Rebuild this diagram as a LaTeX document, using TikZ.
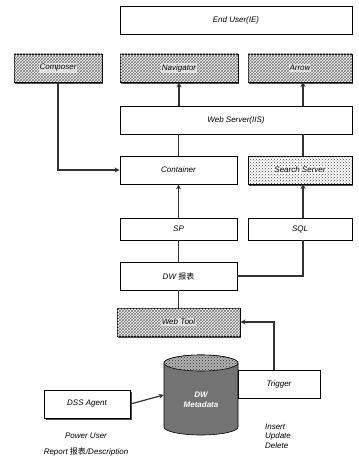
\documentclass[tikz,border=0pt]{standalone}
\usepackage{fontspec}
\setmainfont{Liberation Sans}
\newfontfamily\cjk{Noto Sans CJK SC}
\usetikzlibrary{patterns,shadows,arrows.meta}
\begin{document}
\begin{tikzpicture}[x=1pt,y=-1pt,
  every node/.style={font=\fontsize{8}{9.5}\selectfont\itshape},
  plainbox/.style={draw=black, line width=0.8pt, fill=white, inner sep=0pt},
  hatchbox/.style={draw=black, line width=0.8pt, inner sep=0pt, fill=white,
     postaction={pattern=crosshatch, pattern color=black!55},
     drop shadow={shadow xshift=1.2pt, shadow yshift=-1.8pt, fill=black!70, opacity=1}},
  dotbox/.style={draw=black, line width=0.8pt, inner sep=0pt, fill=white,
     postaction={pattern=crosshatch dots, pattern color=black!75},
     drop shadow={shadow xshift=1.2pt, shadow yshift=-1.8pt, fill=black!70, opacity=1}},
  lbl/.style={fill=white, fill opacity=0.6, text opacity=1, inner sep=1pt},
  conn/.style={line width=1.2pt, draw=black!80},
  arr/.style={conn, -{Stealth[length=5pt,width=5pt,fill=black!45]}}
]
\useasboundingbox (0,0) rectangle (358,470);

\node[plainbox, minimum width=232, minimum height=28] (enduser) at (236,20) {End User(IE)};
\node[hatchbox, minimum width=88, minimum height=28] (composer) at (58,68) {};
\node[lbl] at (composer) {Composer};
\node[hatchbox, minimum width=118, minimum height=28] (navigator) at (179,68) {};
\node[lbl] at (navigator) {Navigator};
\node[hatchbox, minimum width=104, minimum height=28] (portal) at (300,68) {};
\node[lbl] at (portal) {Arrow};
\node[plainbox, minimum width=232, minimum height=28] (web) at (236,120) {Web Server(IIS)};
\node[plainbox, minimum width=117, minimum height=28] (container) at (178.5,170) {Container};
\node[dotbox, minimum width=104, minimum height=28] (search) at (300,170) {};
\node[lbl] at (search) {Search Server};
\node[plainbox, minimum width=117, minimum height=22] (sp) at (178.5,229) {SP};
\node[plainbox, minimum width=104, minimum height=22] (sql) at (300,229) {SQL};
\node[plainbox, minimum width=117, minimum height=28] (dw) at (178.5,276) {DW {\cjk\upshape 报表}};
\node[hatchbox, minimum width=123, minimum height=28] (tool) at (178.5,322) {};
\node[lbl] at (tool) {Web Tool};
\node[plainbox, minimum width=82, minimum height=28] (trigger) at (279,384) {Trigger};
\node[plainbox, minimum width=86, minimum height=28,
  drop shadow={shadow xshift=1.5pt, shadow yshift=-2pt, fill=black!70, opacity=1}] (dss) at (87,404) {DSS Agent};

% cylinder
\node[minimum width=74, minimum height=80, inner sep=0pt] (meta) at (201,395) {};
\fill[black!55, draw=black, line width=0.6pt] (164,363) -- (164,427) arc[start angle=180, end angle=0, x radius=37, y radius=8] -- (238,363) arc[start angle=0, end angle=-180, x radius=37, y radius=8] -- cycle;
\filldraw[fill=black!30, postaction={pattern=crosshatch dots, pattern color=black!80}, draw=black, line width=0.6pt] (201,363) ellipse[x radius=37, y radius=8];
\node[font=\fontsize{8}{9.5}\selectfont\bfseries\itshape, text=white, align=center] at (201,400) {DW\\Metadata};

\node (pu) at (86,436) {Power User};
\node (rep) at (86,452) {Report {\cjk\upshape 报表}/Description};
\node[align=left] (iud) at (278,436) {Insert\\Update\\Delete};

% connectors
\draw[arr] (web.north -| navigator.south) -- (navigator.south);
\draw[arr] (303,106) -- (303,82);
\draw[conn] (container.north) -- (container.north |- web.south);
\draw[conn] (303,156) -- (303,134);
\draw[arr] (composer.south) |- (container.west);
\draw[arr] (sp.north) -- (container.south);
\draw[arr] (303,218) -- (303,184);
\draw[conn] (dw.north) -- (sp.south);
\draw[conn] (dw.east) -| (303,240);
\draw[conn] (dw.south) -- (tool.north);
\draw[arr] (274,370) |- (tool.east);
\draw[arr] (dss.east) -- (meta.west);
\end{tikzpicture}
\end{document}
